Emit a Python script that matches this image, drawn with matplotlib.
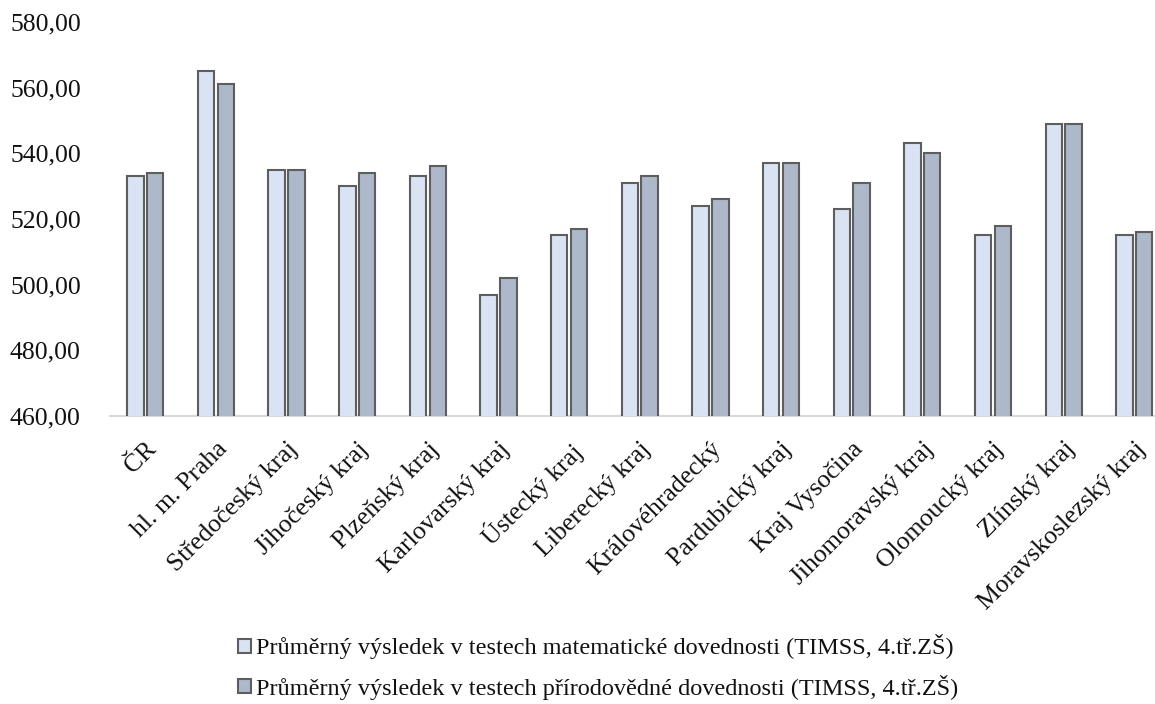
import matplotlib
matplotlib.use("Agg")
import matplotlib.pyplot as plt
import numpy as np

categories = ["ČR", "hl. m. Praha", "Středočeský kraj", "Jihočeský kraj", "Plzeňský kraj",
              "Karlovarský kraj", "Ústecký kraj", "Liberecký kraj", "Královéhradecký",
              "Pardubický kraj", "Kraj Vysočina", "Jihomoravský kraj", "Olomoucký kraj",
              "Zlínský kraj", "Moravskoslezský kraj"]
math_scores = [533, 565, 535, 530, 533, 497, 515, 531, 524, 537, 523, 543, 515, 549, 515]
sci_scores = [534, 561, 535, 534, 536, 502, 517, 533, 526, 537, 531, 540, 518, 549, 516]
series_names = ["Průměrný výsledek v testech matematické dovednosti (TIMSS, 4.tř.ZŠ)",
                "Průměrný výsledek v testech přírodovědné dovednosti (TIMSS, 4.tř.ZŠ)"]
yticks = [460, 480, 500, 520, 540, 560, 580]

font = "Liberation Serif"
plt.rcParams['font.family'] = [font, 'DejaVu Serif']

fig = plt.figure(figsize=(11.55, 7.04), dpi=100)
ax = fig.add_axes([110/1155, 1-416/704, 1059.6/1155, (416-22)/704])

x = np.arange(len(categories))
w = 0.233
off = 0.14
b1 = ax.bar(x - off, math_scores, width=w, color="#DAE3F3", edgecolor="#5E5E5E", linewidth=1.5,
            label=series_names[0], zorder=3)
b2 = ax.bar(x + off, sci_scores, width=w, color="#ADB9CA", edgecolor="#5E5E5E", linewidth=1.5,
            label=series_names[1], zorder=3)

ax.set_xlim(-0.5, len(categories) - 0.5)
ax.set_ylim(460, 580)
ax.set_yticks(yticks)
ax.set_yticklabels([f"{v:.2f}".replace(".", ",") for v in yticks], fontsize=18.5, color="#111111")
ax.tick_params(axis='y', length=0, pad=21)
ax.set_xticks(x)
ax.set_xticklabels(categories, rotation=45, ha='right', rotation_mode='anchor', fontsize=18.5,
                   color="#111111")
ax.tick_params(axis='x', length=0, pad=16)
for s in ['top', 'right', 'left']:
    ax.spines[s].set_visible(False)
ax.spines['bottom'].set_color("#D9D9D9")
ax.spines['bottom'].set_linewidth(1.5)

leg = fig.legend(handles=[b1, b2], loc='center', bbox_to_anchor=(598/1155, 1-667/704),
                 ncol=1, frameon=False, fontsize=17.5, handlelength=0.55, handleheight=0.55,
                 handletextpad=0.2, labelspacing=0.62, borderpad=0.2)
for t in leg.get_texts():
    t.set_color("#111111")

fig.savefig("out.png", dpi=100)
